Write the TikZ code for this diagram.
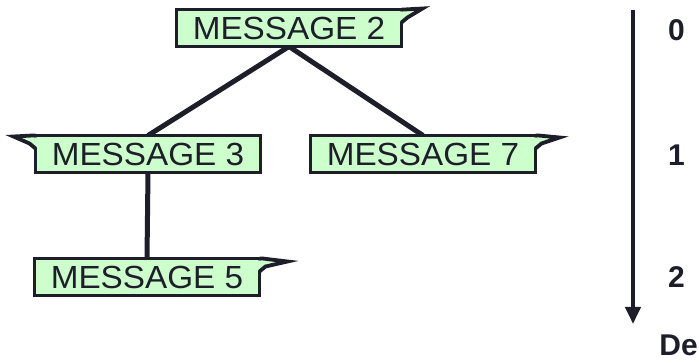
\documentclass[tikz,border=0pt]{standalone}
\usepackage{fontspec}
\setmainfont{Liberation Sans}
\newfontfamily\wideSans[FakeStretch=1.04]{Liberation Sans}
\usetikzlibrary{arrows.meta,calc}
\definecolor{msgfill}{RGB}{204,255,204}
\definecolor{inkc}{RGB}{30,30,42}
\tikzset{
  msg/.style={draw=inkc, fill=msgfill, line width=3.5pt, outer sep=0pt, inner sep=0pt,
    minimum width=225pt, minimum height=37pt, text=inkc,
    font=\wideSans\fontsize{32pt}{32pt}\selectfont},
  tailfill/.style={fill=msgfill},
  tailline/.style={draw=inkc, line width=3.8pt, line join=miter},
  tree/.style={draw=inkc, line width=5pt},
  lvl/.style={text=inkc, anchor=west, inner sep=0pt,
    font=\bfseries\fontsize{30pt}{30pt}\selectfont},
}
\begin{document}
\begin{tikzpicture}[x=1pt,y=-1pt]
\useasboundingbox (0,0) rectangle (699,363);
\node[msg] (m2) at (289,28) {MESSAGE 2};
\node[msg] (m3) at (148,154) {MESSAGE 3};
\node[msg] (m7) at (423,154) {MESSAGE 7};
\node[msg] (m5) at (147,277) {MESSAGE 5};
\draw[tree] (m2.south) -- (m3.north);
\draw[tree] (m2.south) -- (m7.north);
\draw[tree] (m3.south) -- (m5.north);
% redraw boxes on top of connectors
\node[msg] at (m2.center) {MESSAGE 2};
\node[msg] at (m3.center) {MESSAGE 3};
\node[msg] at (m7.center) {MESSAGE 7};
\node[msg] at (m5.center) {MESSAGE 5};
% callout tails (right side)
\foreach \n/\tx/\ty in {m2/21/-1, m7/24/2, m5/28/3}{
  \fill[tailfill] ($(\n.north east)+(-3,2)$) -- ($(\n.north east)+(3,2)$)
     -- ($(\n.north east)+(\tx,\ty)$) -- ($(\n.north east)+(6,8)$)
     -- ($(\n.north east)+(0,12)$) -- ($(\n.north east)+(-3,12)$) -- cycle;
  \draw[tailline] ($(\n.north east)+(0,0)$) -- ($(\n.north east)+(3,0)$)
     -- ($(\n.north east)+(\tx,\ty)$) -- ($(\n.north east)+(6,8)$)
     -- ($(\n.north east)+(0,13)$);
}
% callout tail (left side of MESSAGE 3)
\fill[tailfill] ($(m3.north west)+(3,2)$) -- ($(m3.north west)+(-3,2)$)
   -- ($(m3.north west)+(-22,1)$) -- ($(m3.north west)+(-6,8)$)
   -- ($(m3.north west)+(0,12)$) -- ($(m3.north west)+(3,12)$) -- cycle;
\draw[tailline] (m3.north west) -- ($(m3.north west)+(-3,0)$)
   -- ($(m3.north west)+(-22,1)$) -- ($(m3.north west)+(-6,8)$)
   -- ($(m3.north west)+(0,13)$);
% depth axis
\coordinate (atop) at (633,10);
\coordinate (abot) at (633,324);
\draw[draw=inkc, fill=inkc, line width=4pt, -{Triangle[width=15pt,length=17pt]}] (atop) -- (abot);
\node[lvl] (l0) at (668,30) {0};
\node[lvl] (l1) at (668,155) {1};
\node[lvl] (l2) at (668,277) {2};
\node[lvl, anchor=east] (lde) at (698,345) {De};
\end{tikzpicture}
\end{document}
